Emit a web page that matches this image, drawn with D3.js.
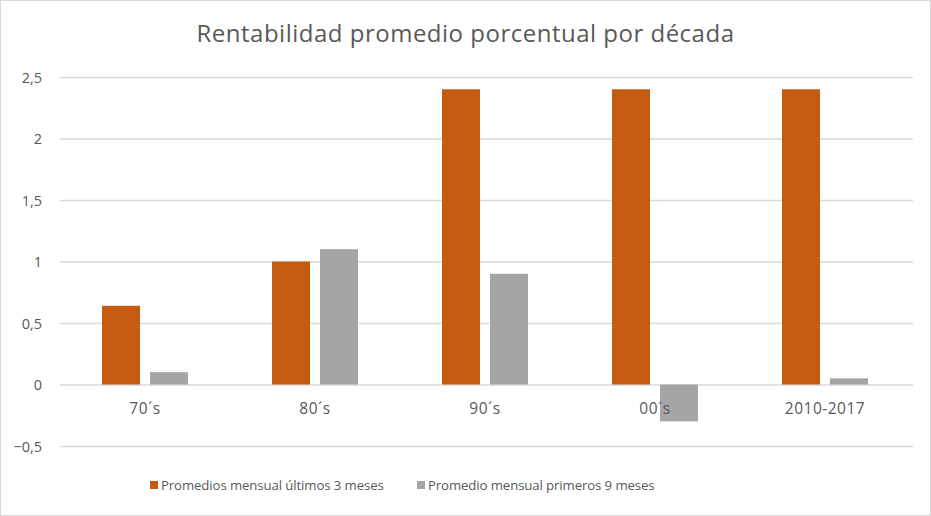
<!DOCTYPE html>
<html><head><meta charset="utf-8">
<script src="https://cdn.jsdelivr.net/npm/d3@7"></script>
<style>body{margin:0;background:#fff}svg{display:block}text{font-family:"Open Sans",sans-serif;fill:#595959}</style>
</head><body>
<script>
const categories = ["70´s","80´s","90´s","00´s","2010-2017"];
const seriesNames = ["Promedios mensual últimos 3 meses","Promedio mensual primeros 9 meses"];
const lastThree = [0.64, 1.0, 2.4, 2.4, 2.4];
const firstNine = [0.1, 1.1, 0.9, -0.3, 0.05];
const yTicks = [-0.5, 0, 0.5, 1, 1.5, 2, 2.5];
const colors = ["#C55A11", "#A5A5A5"];
const title = "Rentabilidad promedio porcentual por década";

const W = 931, H = 516;
const svg = d3.select("body").append("svg").attr("width", W).attr("height", H);
svg.append("rect").attr("x",0.5).attr("y",0.5).attr("width",W-1).attr("height",H-1).attr("fill","#fff").attr("stroke","#d9d9d9");

const y = d3.scaleLinear().domain([-0.5, 2.5]).range([446, 77]);
const x = d3.scaleBand().domain(categories).range([60, 910]);
const inner = d3.scaleBand().domain([0,1]).range([0, 86]).paddingInner(10/48);
const fmt = d => d3.format("")(d).replace(".", ",");

svg.append("text").attr("x", 465.5).attr("y", 42).attr("text-anchor","middle")
  .style("font-size","24px").style("letter-spacing","0.5px").text(title);

const yAxis = svg.append("g").attr("transform","translate(60,0)")
  .call(d3.axisLeft(y).tickValues(yTicks).tickSize(-(913-60)).tickFormat(fmt).tickPadding(18));
yAxis.select(".domain").remove();
yAxis.selectAll("line").attr("stroke","#d9d9d9").attr("stroke-width",1.3);
yAxis.selectAll("text").style("font-size","14.5px").attr("fill","#595959").attr("dy","0.35em");

const data = categories.map((c,i)=>({c, v:[lastThree[i], firstNine[i]]}));
const g = svg.append("g").selectAll("g").data(data).join("g")
  .attr("transform", d => `translate(${x(d.c) + (x.bandwidth()-86)/2},0)`);
g.selectAll("rect").data(d => d.v.map((v,k)=>({v,k}))).join("rect")
  .attr("x", d => inner(d.k)).attr("width", inner.bandwidth())
  .attr("y", d => y(Math.max(0,d.v))).attr("height", d => Math.abs(y(d.v)-y(0)))
  .attr("fill", d => colors[d.k]);

const xAxis = svg.append("g").attr("transform",`translate(0,${y(0)})`)
  .call(d3.axisBottom(x).tickSize(0).tickPadding(18));
xAxis.select(".domain").remove();
xAxis.selectAll("text").style("font-size","15.5px").style("letter-spacing","0.5px").attr("fill","#595959");

const legX = [150, 417];
const leg = svg.append("g").selectAll("g").data(seriesNames).join("g")
  .attr("transform",(d,i)=>`translate(${legX[i]},481)`);
leg.append("rect").attr("width",8).attr("height",8).attr("fill",(d,i)=>colors[i]);
leg.append("text").attr("x",11).attr("y",9).style("font-size","13.2px").style("letter-spacing","-0.1px").text(d=>d);
</script>
</body></html>
